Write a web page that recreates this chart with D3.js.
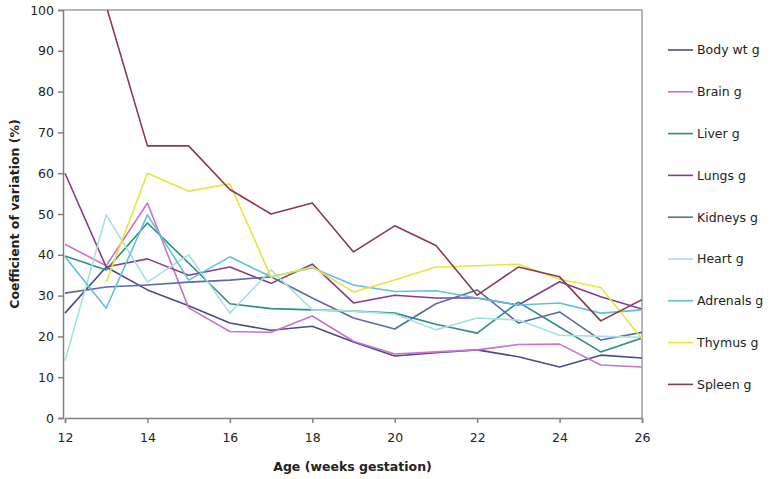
<!DOCTYPE html>
<html>
<head>
<meta charset="utf-8">
<script src="https://cdn.jsdelivr.net/npm/d3@7"></script>
<style>
  body { margin: 0; background: #fff; }
  svg text { font-family: "DejaVu Sans", Verdana, sans-serif; fill: #222; }
</style>
</head>
<body>
<svg id="chart" width="772" height="479"></svg>
<script>
// weeks of gestation on the x axis
var weeks = [12, 13, 14, 15, 16, 17, 18, 19, 20, 21, 22, 23, 24, 25, 26]
var xTicks = [12, 14, 16, 18, 20, 22, 24, 26]
var yTicks = [0, 10, 20, 30, 40, 50, 60, 70, 80, 90, 100]

var names = ["Body wt g", "Brain g", "Liver g", "Lungs g", "Kidneys g", "Heart g", "Adrenals g", "Thymus g", "Spleen g"]
var colors = ["#4b4b8c", "#d070c8", "#2a8f86", "#8a3a8e", "#5a6aaa", "#a8e0e0", "#60c0dc", "#e6e63a", "#8b3a4a"]

// coefficient of variation (%) per week
var bodyWt = [25.7, 37, 31.4, 27.5, 23.3, 21.5, 22.5, 18.6, 15.2, 16, 16.7, 15, 12.5, 15.4, 14.7]
var brain = [42.6, 37.3, 52.7, 27, 21.2, 21, 25, 18.8, 15.7, 16.2, 16.7, 18, 18.1, 13, 12.5]
var liver = [39.7, 36.3, 47.8, 38, 28, 26.8, 26.5, 26.2, 25.7, 23, 20.8, 28.4, 22.3, 16.2, 19.6]
var lungs = [60, 37, 39, 35, 37, 33, 37.7, 28.2, 30.1, 29.4, 29.4, 27.7, 33.4, 29.7, 26.7]
var kidneys = [30.6, 32.1, 32.6, 33.3, 33.8, 34.6, 29.4, 24.5, 21.8, 28, 31.4, 23.3, 26, 19.1, 21]
var heart = [14, 49.8, 33.3, 40, 25.7, 36.3, 26.5, 26.2, 25.5, 21.6, 24.5, 24, 20.3, 20, 19.8]
var adrenals = [39.5, 26.9, 49.8, 33.8, 39.5, 34.6, 36.8, 32.6, 31, 31.2, 29.4, 27.7, 28.2, 25.7, 26.5]
var thymus = [null, 33.3, 60, 55.6, 57.4, 34.5, 37, 30.9, 33.8, 37, 37.3, 37.7, 34, 32, 19.4]
var spleen = [null, 101, 66.7, 66.7, 56, 50, 52.7, 40.7, 47.1, 42.3, 30.1, 37, 34.6, 23.8, 29]

var series = [bodyWt, brain, liver, lungs, kidneys, heart, adrenals, thymus, spleen]

var margin = { top: 10, right: 130, bottom: 61, left: 63 }
var width = 772 - margin.left - margin.right,
    height = 479 - margin.top - margin.bottom

var svg = d3.select("#chart")
var g = svg.append("g")
    .attr("transform", "translate(" + margin.left + "," + margin.top + ")")

var x = d3.scaleLinear().domain([12, 26]).range([2, width])
var y = d3.scaleLinear().domain([0, 100]).range([height, 0])

g.append("clipPath").attr("id", "plot-clip")
    .append("rect").attr("x", 0).attr("y", 0).attr("width", width).attr("height", height)

// frame (top and right)
g.append("path")
    .attr("d", "M0,0H" + width + "V" + height)
    .attr("fill", "none")
    .attr("stroke", "#a0a0a0")
    .attr("stroke-width", 1.5)

var yAxis = g.append("g")
    .call(d3.axisLeft(y).tickValues(yTicks).tickSize(5).tickPadding(4))
yAxis.selectAll("path, line").attr("stroke", "#808080").attr("stroke-width", 1.5)
yAxis.selectAll("text").style("font-size", "12.5px")

var xAxis = g.append("g")
    .attr("transform", "translate(0," + height + ")")
    .call(d3.axisBottom(x).tickValues(xTicks).tickSize(5).tickPadding(10))
xAxis.selectAll("path, line").attr("stroke", "#808080").attr("stroke-width", 1.5)
xAxis.selectAll("text").style("font-size", "12.5px")

var line = d3.line()
    .defined(function (d) { return d != null })
    .x(function (d, i) { return x(weeks[i]) })
    .y(function (d) { return y(d) })

g.append("g").attr("clip-path", "url(#plot-clip)")
    .selectAll(".series")
    .data(series)
    .enter()
    .append("path")
    .attr("class", "series")
    .attr("d", line)
    .attr("fill", "none")
    .attr("stroke", function (d, i) { return colors[i] })
    .attr("stroke-width", 1.6)
    .attr("stroke-linejoin", "round")

// axis titles
svg.append("text")
    .attr("x", margin.left + width / 2)
    .attr("y", 471)
    .attr("text-anchor", "middle")
    .style("font-size", "12.5px")
    .style("font-weight", "bold")
    .text("Age (weeks gestation)")

svg.append("text")
    .attr("transform", "translate(19," + (margin.top + height / 2) + ") rotate(-90)")
    .attr("text-anchor", "middle")
    .style("font-size", "12.5px")
    .style("font-weight", "bold")
    .text("Coefficient of variation (%)")

// legend
var legend = svg.append("g").attr("transform", "translate(668,50)")
var item = legend.selectAll(".item")
    .data(names)
    .enter()
    .append("g")
    .attr("class", "item")
    .attr("transform", function (d, i) { return "translate(0," + (i * 41.8) + ")" })
item.append("line")
    .attr("x1", 0).attr("x2", 25)
    .attr("stroke", function (d, i) { return colors[i] })
    .attr("stroke-width", 1.6)
item.append("text")
    .attr("x", 29)
    .attr("dy", "0.35em")
    .style("font-size", "12.5px")
    .text(function (d) { return d })
</script>
</body>
</html>
